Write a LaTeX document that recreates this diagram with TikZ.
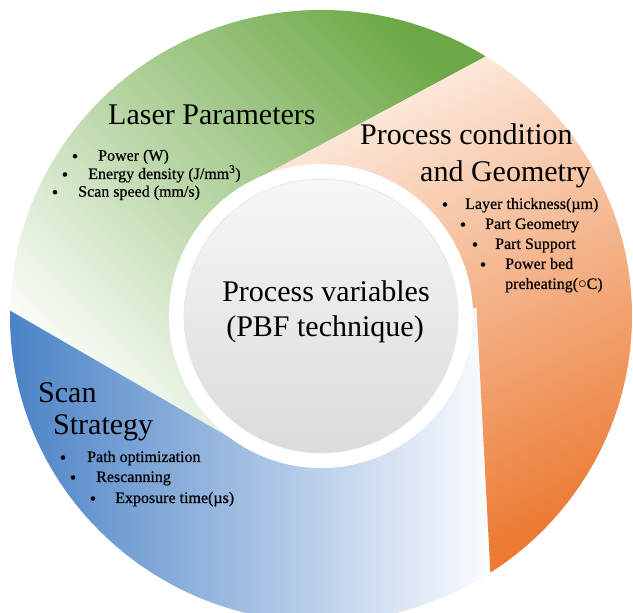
\documentclass[tikz,border=0pt]{standalone}
\usepackage{fontspec}
\setmainfont{Liberation Serif}
\newfontfamily\itemfont[FakeBold=0.6]{Liberation Serif}
\definecolor{grD}{HTML}{6CA845}
\definecolor{grM}{HTML}{A6CF8B}
\definecolor{grL}{HTML}{F9FCF7}
\definecolor{orL}{HTML}{FDEDE2}
\definecolor{orM}{HTML}{F6B488}
\definecolor{orD}{HTML}{EC7A33}
\definecolor{blD}{HTML}{4A82C6}
\definecolor{blM}{HTML}{A7C1E6}
\definecolor{blL}{HTML}{FBFCFF}
\definecolor{grayT}{HTML}{F7F7F7}
\definecolor{grayB}{HTML}{DBDBDB}
\tikzset{
  title/.style={anchor=base west, inner sep=0pt, font=\fontsize{30}{36}\selectfont},
  ctitle/.style={anchor=base, inner sep=0pt, font=\fontsize{30}{36}\selectfont},
  item/.style={anchor=base west, inner sep=0pt, font=\itemfont\fontsize{16}{19}\selectfont},
  dot/.style={circle, fill=black, inner sep=0pt, minimum size=4.6pt},
}
\begin{document}
\begin{tikzpicture}[x=1pt,y=1pt]
\useasboundingbox (0,0) rectangle (633,613);
\fill[white] (0,0) rectangle (633,613);
\begin{scope}
\clip (0,0) rectangle (633,613);
\begin{scope}[shift={(321,297)}]
  % green sector
  \shade[top color=grL, middle color=grM, bottom color=grD, shading angle=135]
    (58:311 and 306) arc[start angle=58, end angle=179, x radius=311, y radius=306]
    -- (240:151) arc[start angle=240, end angle=119, radius=151] -- cycle;
  % blue sector
  \shade[top color=blD, middle color=blM, bottom color=blL, shading angle=90]
    (179:311 and 306) arc[start angle=179, end angle=303, x radius=311, y radius=306]
    -- (3:155.7) -- (3:140) arc[start angle=363, end angle=240, radius=140]
    -- (240:151) -- cycle;
  % orange sector
  \shade[top color=orL, middle color=orM, bottom color=orD, shading angle=25]
    (303:311 and 306) arc[start angle=303, end angle=418, x radius=311, y radius=306]
    -- (119:151) arc[start angle=119, end angle=3, radius=151] -- (3:155.7) -- cycle;
  % centre
  \fill[white] (0,0) circle[radius=152];
  \shade[top color=grayT, bottom color=grayB] (0,0) circle[radius=137];
  \draw[black!10, line width=0.6pt] (0,0) circle[radius=137];
\end{scope}
\end{scope}

% Laser parameters
\node[title] (lp) at (108,488) {Laser Parameters};
\node[dot] (lpd1) at (75,456.8) {};
\node[item] (lp1) at (98,452.3) {Power (W)};
\node[dot] (lpd2) at (65,438.5) {};
\node[item] (lp2) at (88,434) {Energy density (J/mm\textsuperscript{3})};
\node[dot] (lpd3) at (55,420.8) {};
\node[item] (lp3) at (78,416.3) {Scan speed (mm/s)};

% Process condition
\node[title] (pc) at (360,468) {Process condition};
\node[title] (pc2) at (420,431) {and Geometry};
\node[dot] (pcd1) at (445,408.5) {};
\node[item] (pc3) at (465,404) {Layer thickness(µm)};
\node[dot] (pcd2) at (463,388.5) {};
\node[item] (pc4) at (485,384) {Part Geometry};
\node[dot] (pcd3) at (475,368.5) {};
\node[item] (pc5) at (495,364) {Part Support};
\node[dot] (pcd4) at (483,348.5) {};
\node[item] (pc6) at (505,344) {Power bed};
\node[item] (pc7) at (505,324) {preheating($\circ$C)};

% Scan strategy
\node[title] (ss) at (38,210) {Scan};
\node[title] (ss2) at (53,178) {Strategy};
\node[dot] (ssd1) at (63,155.5) {};
\node[item] (ss3) at (87,151) {Path optimization};
\node[dot] (ssd2) at (73,135.5) {};
\node[item] (ss4) at (96,131) {Rescanning};
\node[dot] (ssd3) at (93,114.5) {};
\node[item] (ss5) at (115,110) {Exposure time(µs)};

% Centre
\node[ctitle] (pv) at (326,311) {Process variables};
\node[ctitle] (pv2) at (325,276) {(PBF technique)};
\end{tikzpicture}
\end{document}
